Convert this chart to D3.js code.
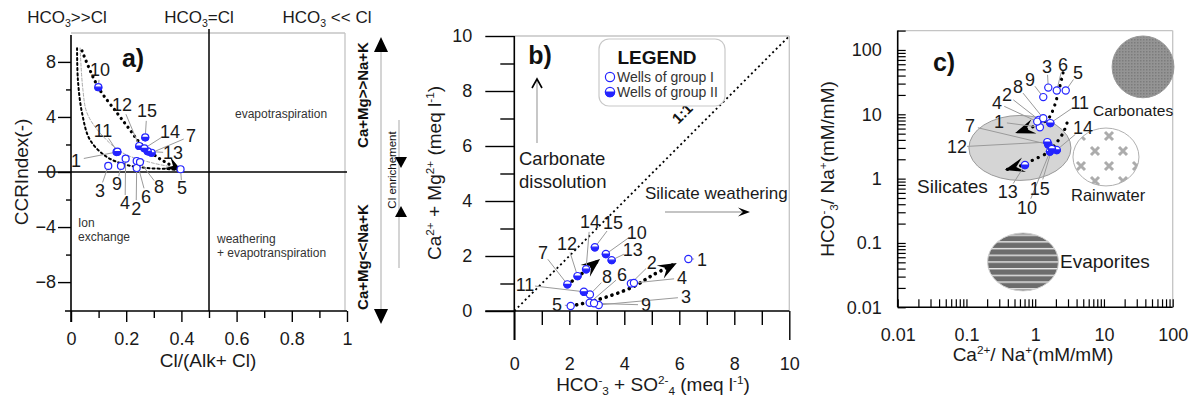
<!DOCTYPE html>
<html><head><meta charset="utf-8">
<script src="https://cdn.jsdelivr.net/npm/d3@7/dist/d3.min.js"></script>
<style>html,body{margin:0;padding:0;background:#fff}svg{display:block}</style>
</head><body><svg id="chart" width="1195" height="400"></svg>
<script>
// ================= DATA =================
const wells     = ["1","2","3","4","5","6","7","8","9","10","11","12","13","14","15"];
const wellGroup = ["I","I","I","I","I","I","II","I","I","II","II","II","II","II","II"];

// Panel a : Cl/(Alk+Cl) vs CCR index
const aClRatio = [0.165,0.238,0.135,0.198,0.397,0.238,0.292,0.25,0.181,0.099,0.168,0.247,0.278,0.266,0.269];
const aCCR     = [1.45,0.29,0.44,0.97,0.2,0.8,1.4,0.72,0.44,6.16,1.48,1.89,1.5,1.72,2.52];
const aXTicks = [0,0.2,0.4,0.6,0.8,1];
const aXMinor = [0.1,0.3,0.5,0.7,0.9];
const aYTicks = [-8,-4,0,4,8];
const aYMinor = [-6,-2,2,6];
const aTrendMainX = [0.04,0.098,0.167,0.214,0.25,0.312,0.348,0.402];
const aTrendMainY = [8.8,6.18,4.29,3.05,2.11,1.09,0.65,0.07];
const aTrendLowX  = [0.022,0.025,0.04,0.069,0.13,0.203,0.275,0.348,0.39];
const aTrendLowY  = [9.0,6.7,4.29,2.33,1.09,0.51,0.29,0.22,0.12];
const aTrendMidX  = [0.033,0.043,0.058,0.105,0.188,0.297,0.37];
const aTrendMidY  = [9.0,6.0,4.29,2.84,1.38,0.65,0.36];
const aLabelX = [0.018,0.236,0.105,0.196,0.402,0.272,0.435,0.319,0.167,0.105,0.116,0.185,0.37,0.359,0.275];
const aLabelY = [0.87,-2.62,-1.31,-2.25,-1.16,-1.75,2.62,-1.09,-0.87,7.42,3.05,4.87,1.38,2.91,4.44];

// Panel b : HCO3+SO4 vs Ca+Mg (meq/l)
const bHCO3SO4 = [6.33,4.24,3.07,4.35,2.05,2.74,1.93,2.75,2.9,3.33,2.53,2.3,3.54,2.61,2.93];
const bCaMg    = [1.89,1.0,0.22,1.02,0.18,0.3,0.97,0.6,0.28,2.07,0.7,1.27,1.85,1.52,2.32];
const bTicks = [0,2,4,6,8,10];
const bMinorX = [1,2,3,4,5,6,7,8,9];
const bMinorY = [1,3,5,7,9];
const bTrendIIX = [1.93,2.39,2.64,3.12];
const bTrendIIY = [0.95,1.31,1.49,1.89];
const bTrendIX  = [2.05,3.0,4.3,5.04,5.91];
const bTrendIY  = [0.18,0.4,0.87,1.31,1.75];
const bLabelX = [6.83,5.0,6.24,6.1,1.55,3.92,1.04,3.37,4.79,4.45,0.39,1.92,4.31,2.75,3.59];
const bLabelY = [1.89,1.75,0.51,1.2,0.25,1.31,2.11,1.24,0.22,2.87,0.95,2.47,2.22,3.24,3.2];

// Panel c : Ca/Na vs HCO3/Na (mM/mM), log-log
const cCaNa   = [1.17,1.135,1.55,1.07,2.78,2.06,1.55,1.31,1.31,1.64,1.66,1.5,0.71,2.06,1.75];
const cHCO3Na = [6.3,8.2,26,7.7,23.4,23.4,3.4,8.7,18.5,2.63,7.3,3.7,1.63,2.79,2.9];
const cTicks = [0.01,0.1,1,10,100];
const cTrendUpX = [2.54,1.82,1.49,0.93,0.51];
const cTrendUpY = [44,11.7,8.2,6.4,5.1];
const cTrendLoX = [2.9,2.54,1.82,1.49,0.93,0.67,0.36];
const cTrendLoY = [7.3,5.1,3.1,2.51,1.95,1.63,1.36];
const cLabelX = [0.297,0.389,1.49,0.278,4.2,2.54,0.113,0.562,0.84,0.76,4.45,0.073,0.40,4.96,1.17];
const cLabelY = [7.62,20.0,54.6,15.0,44,58.6,6.6,26.7,34.3,0.35,15.0,3.11,0.62,6.14,0.69];
// end-member fields (centre in data units, radii in decades)
const cZones   = ["Carbonates","Rainwater","Silicates","Evaporites"];
const cZoneX   = [37,10.7,0.60,0.665];
const cZoneY   = [54.6,2.17,3.0,0.0507];
const cZoneRX  = [0.45,0.48,0.742,0.516];
const cZoneRY  = [0.48,0.45,0.505,0.45];

// ================= DRAWING =================
const FF = '"Liberation Sans", Arial, Helvetica, sans-serif';
const BLUE = "#2424ff", LEAD = "#9a9a9a", BORDER = "#c4c4c4", TXT = "#1a1a1a";
const svg = d3.select("#chart").attr("font-family", FF);

function rich(t, parts, fs) {
  let shift = 0;
  parts.forEach(p => {
    let target = 0, size = fs, str = p;
    if (typeof p !== "string") { str = p.t; size = fs * 0.62; target = p.s === "sup" ? -fs * 0.38 : fs * 0.22; }
    t.append("tspan").attr("dy", target - shift).attr("font-size", size).text(str);
    shift = target;
  });
  return t;
}
const SUP = t => ({t, s: "sup"}), SUB = t => ({t, s: "sub"});

function dart(g, tip, from, len, wid) {
  const ang = Math.atan2(tip[1] - from[1], tip[0] - from[0]) * 180 / Math.PI;
  g.append("path")
    .attr("d", `M0,0 L${-len},${-wid / 2} L${-len * 0.6},0 L${-len},${wid / 2} Z`)
    .attr("transform", `translate(${tip[0]},${tip[1]}) rotate(${ang})`)
    .attr("fill", "#000");
}
function marker(g, x, y, grp, r) {
  g.append("circle").attr("cx", x).attr("cy", y).attr("r", r)
    .attr("fill", "#fff").attr("stroke", BLUE).attr("stroke-width", 1.2);
  if (grp === "II") {
    g.append("path").attr("d", `M${x - r},${y} A${r},${r} 0 0 0 ${x + r},${y} Z`)
      .attr("fill", BLUE).attr("stroke", BLUE).attr("stroke-width", 1.2);
  }
}
function styleAxis(sel, fs) {
  sel.select(".domain").remove();
  sel.attr("font-size", fs).attr("font-family", FF);
  sel.selectAll(".tick line").attr("stroke", "#000").attr("stroke-width", 1.4);
  sel.selectAll(".tick text").attr("fill", TXT);
}
function line(g, x1, y1, x2, y2, col, w) {
  return g.append("line").attr("x1", x1).attr("y1", y1).attr("x2", x2).attr("y2", y2)
    .attr("stroke", col).attr("stroke-width", w);
}
function points(g, xs, ys, sx, sy, lxs, lys, r) {
  wells.forEach((w, i) => {
    const px = sx(xs[i]), py = sy(ys[i]), lx = sx(lxs[i]), ly = sy(lys[i]);
    const dx = px - lx, dy = py - ly, d = Math.hypot(dx, dy);
    const off = Math.min(w.length > 1 ? 10 : 8, d - r);
    line(g, lx + dx / d * off, ly + dy / d * off, px - dx / d * r, py - dy / d * r, LEAD, 1);
  });
  wells.forEach((w, i) => marker(g, sx(xs[i]), sy(ys[i]), wellGroup[i], r));
  wells.forEach((w, i) => {
    g.append("text").attr("x", sx(lxs[i])).attr("y", sy(lys[i])).attr("dy", "0.36em")
      .attr("text-anchor", "middle").attr("font-size", 18).attr("fill", TXT).text(w);
  });
}
function trend(g, xs, ys, sx, sy, w, dash, col) {
  const pts = xs.map((x, i) => [sx(x), sy(ys[i])]);
  g.append("path").attr("d", d3.line().curve(d3.curveCatmullRom.alpha(0.5))(pts))
    .attr("fill", "none").attr("stroke", col || "#000").attr("stroke-width", w)
    .attr("stroke-dasharray", dash).attr("stroke-linecap", "round");
  return pts;
}

// ---------------- Panel a ----------------
{
  const xA = d3.scaleLinear().domain([0, 1]).range([71, 347]);
  const yA = d3.scaleLinear().domain([-10.1, 10.1]).range([311, 33]);
  const g = svg.append("g");
  line(g, xA(0), yA(10.1), xA(1) - 2, yA(10.1), BORDER, 1.3);
  line(g, xA(1) - 2, yA(10.1), xA(1) - 2, yA(-10.1), BORDER, 1.3);
  line(g, 38, yA(0), xA(1), yA(0), "#000", 1.5);
  line(g, xA(0.5), 29, xA(0.5), yA(-10.1), "#000", 1.5);

  g.append("g").attr("transform", `translate(0,${yA(-10.1)})`)
    .call(d3.axisBottom(xA).tickValues(aXTicks).tickSize(11).tickPadding(10).tickFormat(d3.format("~g")))
    .call(styleAxis, 18);
  g.append("g").attr("transform", `translate(0,${yA(-10.1)})`)
    .call(d3.axisBottom(xA).tickValues(aXMinor).tickSize(7).tickFormat(""))
    .call(styleAxis, 18);
  g.append("g").attr("transform", `translate(${xA(0)},0)`)
    .call(d3.axisLeft(yA).tickValues(aYTicks).tickSize(13).tickPadding(2).tickFormat(d3.format("~g")))
    .call(styleAxis, 18);
  g.append("g").attr("transform", `translate(${xA(0)},0)`)
    .call(d3.axisLeft(yA).tickValues(aYMinor).tickSize(5).tickFormat(""))
    .call(styleAxis, 18);
  line(g, 65, yA(-10.1), xA(1), yA(-10.1), "#000", 1.6);
  line(g, xA(0), 35, xA(0), yA(-10.1) + 11, "#000", 1.6);

  // top headers
  rich(g.append("text").attr("x", 67).attr("y", 23).attr("text-anchor", "middle").attr("font-size", 17).attr("fill", TXT),
    ["HCO", SUB("3"), ">>Cl"], 17);
  rich(g.append("text").attr("x", 199).attr("y", 23).attr("text-anchor", "middle").attr("font-size", 17).attr("fill", TXT),
    ["HCO", SUB("3"), "=Cl"], 17);
  rich(g.append("text").attr("x", 327).attr("y", 23).attr("text-anchor", "middle").attr("font-size", 17).attr("fill", TXT),
    ["HCO", SUB("3"), " << Cl"], 17);

  g.append("text").attr("x", 133).attr("y", 67).attr("text-anchor", "middle").attr("font-size", 25)
    .attr("font-weight", "bold").attr("fill", "#111").text("a)");
  g.append("text").attr("x", 235).attr("y", 118).attr("font-size", 12).attr("fill", "#333").text("evapotraspiration");
  g.append("text").attr("x", 78).attr("y", 227).attr("font-size", 12).attr("fill", "#333").text("Ion");
  g.append("text").attr("x", 78).attr("y", 241).attr("font-size", 12).attr("fill", "#333").text("exchange");
  g.append("text").attr("x", 217).attr("y", 243).attr("font-size", 12).attr("fill", "#333").text("weathering");
  g.append("text").attr("x", 217).attr("y", 257).attr("font-size", 12).attr("fill", "#333").text("+ evapotranspiration");

  g.append("text").attr("transform", "translate(28,172) rotate(-90)").attr("text-anchor", "middle")
    .attr("font-size", 19).attr("fill", TXT).text("CCRIndex(-)");
  g.append("text").attr("x", 208).attr("y", 367).attr("text-anchor", "middle")
    .attr("font-size", 19).attr("fill", TXT).text("Cl/(Alk+ Cl)");

  // right side annotations
  g.append("text").attr("transform", "translate(368,95) rotate(-90)").attr("text-anchor", "middle")
    .attr("font-size", 15).attr("font-weight", "bold").attr("fill", "#111").text("Ca+Mg>>Na+K");
  g.append("text").attr("transform", "translate(368,257) rotate(-90)").attr("text-anchor", "middle")
    .attr("font-size", 15).attr("font-weight", "bold").attr("fill", "#111").text("Ca+Mg<<Na+K");
  line(g, 381, 50, 381, 310, "#b8b8b8", 1.2);
  g.append("path").attr("d", "M381,37 L388,52 L374,52 Z").attr("fill", "#000");
  g.append("path").attr("d", "M381,324 L388,309 L374,309 Z").attr("fill", "#000");
  g.append("text").attr("transform", "translate(396,170) rotate(-90)").attr("text-anchor", "middle")
    .attr("font-size", 11.5).attr("fill", "#111").text("Cl enrichement");
  line(g, 399, 120, 399, 268, "#b8b8b8", 1.2);
  g.append("path").attr("d", "M401,168 L407,157 L395,157 Z").attr("fill", "#000");
  g.append("path").attr("d", "M401,206 L407,217 L395,217 Z").attr("fill", "#000");

  // trends
  trend(g, aTrendMidX, aTrendMidY, xA, yA, 1, "3,2", "#a8a8a8");
  trend(g, aTrendLowX, aTrendLowY, xA, yA, 2, "2,3");
  const p = trend(g, aTrendMainX, aTrendMainY, xA, yA, 3.2, "0.1,5.5");
  dart(g, p[p.length - 1], p[p.length - 3], 17, 13);

  points(g, aClRatio, aCCR, xA, yA, aLabelX, aLabelY, 3.5);
}

// ---------------- Panel b ----------------
{
  const xB = d3.scaleLinear().domain([0, 10]).range([514.3, 789.3]);
  const yB = d3.scaleLinear().domain([0, 10]).range([311, 36]);
  const g = svg.append("g");
  line(g, xB(0), yB(10), xB(10), yB(10), BORDER, 1.3);
  line(g, xB(10), yB(10), xB(10), yB(0), BORDER, 1.3);

  g.append("g").attr("transform", `translate(0,${yB(0)})`)
    .call(d3.axisBottom(xB).tickValues(bMinorX).tickSize(14).tickFormat(""))
    .call(styleAxis, 18);
  g.append("g").attr("transform", `translate(0,${yB(0)})`)
    .call(d3.axisBottom(xB).tickValues([0, 10]).tickSize(29).tickFormat(""))
    .call(styleAxis, 18);
  g.append("g").attr("transform", `translate(0,${yB(0)})`)
    .call(d3.axisBottom(xB).tickValues(bTicks).tickSize(0).tickPadding(46).tickFormat(d3.format("~g")))
    .call(styleAxis, 18);
  g.append("g").attr("transform", `translate(${xB(0)},0)`)
    .call(d3.axisLeft(yB).tickValues(bTicks).tickSize(29).tickPadding(13).tickFormat(d3.format("~g")))
    .call(styleAxis, 18);
  g.append("g").attr("transform", `translate(${xB(0)},0)`)
    .call(d3.axisLeft(yB).tickValues(bMinorY).tickSize(14).tickFormat(""))
    .call(styleAxis, 18);
  line(g, xB(0) - 29, yB(0), xB(10), yB(0), "#000", 1.6);
  line(g, xB(0), yB(10), xB(0), yB(0) + 29, "#000", 1.6);

  // 1:1 line
  g.append("line").attr("x1", xB(0)).attr("y1", yB(0)).attr("x2", xB(10)).attr("y2", yB(10))
    .attr("stroke", "#000").attr("stroke-width", 1.8).attr("stroke-dasharray", "2,3");
  g.append("text").attr("transform", "translate(686,117) rotate(-45)").attr("text-anchor", "middle")
    .attr("font-size", 15).attr("font-weight", "bold").attr("fill", "#111").text("1:1");

  g.append("text").attr("x", 540).attr("y", 64).attr("text-anchor", "middle").attr("font-size", 25)
    .attr("font-weight", "bold").attr("fill", "#111").text("b)");

  // legend
  g.append("rect").attr("x", 599).attr("y", 39).attr("width", 126).attr("height", 67).attr("rx", 10)
    .attr("fill", "#fff").attr("stroke", "#c8c8c8").attr("stroke-width", 1.2);
  g.append("text").attr("x", 657).attr("y", 64).attr("text-anchor", "middle").attr("font-size", 19)
    .attr("font-weight", "bold").attr("fill", "#111").text("LEGEND");
  marker(g, 610, 77, "I", 4.6);
  marker(g, 610, 92, "II", 4.6);
  g.append("text").attr("x", 617).attr("y", 82).attr("font-size", 14).attr("fill", "#333").text("Wells of group I");
  g.append("text").attr("x", 617).attr("y", 97).attr("font-size", 14).attr("fill", "#333").text("Wells of group II");

  // process arrows
  line(g, 537, 143, 537, 80, "#b0b0b0", 1.4);
  g.append("path").attr("d", "M532,88 L537,79 L542,88").attr("fill", "none").attr("stroke", "#000").attr("stroke-width", 1.6);
  g.append("text").attr("x", 519).attr("y", 165).attr("font-size", 18.5).attr("fill", TXT).text("Carbonate");
  g.append("text").attr("x", 519).attr("y", 188).attr("font-size", 18.5).attr("fill", TXT).text("dissolution");
  g.append("text").attr("x", 645).attr("y", 199).attr("font-size", 17).attr("fill", TXT).text("Silicate weathering");
  line(g, 665, 212, 742, 212, "#b0b0b0", 1.4);
  dart(g, [750, 212], [700, 212], 12, 9);

  g.append("text").attr("transform", "translate(441,173) rotate(-90)").attr("text-anchor", "middle")
    .call(t => rich(t.attr("font-size", 19).attr("fill", TXT),
      ["Ca", SUP("2+"), " + Mg", SUP("2+"), " (meq l", SUP("-1"), ")"], 19));
  g.append("text").attr("x", 653).attr("y", 391).attr("text-anchor", "middle")
    .call(t => rich(t.attr("font-size", 19).attr("fill", TXT),
      ["HCO", SUP("-"), SUB("3"), " + SO", SUP("2-"), SUB("4"), " (meq l", SUP("-1"), ")"], 19));

  const p2 = trend(g, bTrendIIX, bTrendIIY, xB, yB, 3.6, "0.1,6");
  dart(g, p2[p2.length - 1], p2[p2.length - 3], 19, 15);
  const p1 = trend(g, bTrendIX, bTrendIY, xB, yB, 3.6, "0.1,6");
  dart(g, p1[p1.length - 1], p1[p1.length - 3], 19, 15);

  points(g, bHCO3SO4, bCaMg, xB, yB, bLabelX, bLabelY, 3.6);
}

// ---------------- Panel c ----------------
{
  const xC = d3.scaleLog().domain([0.01, 100]).range([897.7, 1172.7]);
  const yC = d3.scaleLog().domain([0.01, 200]).range([307.3, 30.6]);
  const g = svg.append("g");
  const defs = svg.append("defs");

  const pc = defs.append("pattern").attr("id", "pCarb").attr("patternUnits", "userSpaceOnUse").attr("width", 3).attr("height", 3);
  pc.append("rect").attr("width", 3).attr("height", 3).attr("fill", "#949494");
  pc.append("rect").attr("width", 1.5).attr("height", 1.5).attr("fill", "#7c7c7c");
  const pr = defs.append("pattern").attr("id", "pRain").attr("patternUnits", "userSpaceOnUse")
    .attr("width", 28).attr("height", 30).attr("x", 1073).attr("y", 128);
  pr.append("rect").attr("width", 28).attr("height", 30).attr("fill", "#fff");
  [[8, 8], [22, 23]].forEach(([cx, cy]) => {
    pr.append("path").attr("d", `M${cx - 4},${cy - 4} L${cx + 4},${cy + 4} M${cx + 4},${cy - 4} L${cx - 4},${cy + 4}`)
      .attr("stroke", "#acacac").attr("stroke-width", 3);
  });
  const pe = defs.append("pattern").attr("id", "pEvap").attr("patternUnits", "userSpaceOnUse").attr("width", 10).attr("height", 6.7);
  pe.append("rect").attr("width", 10).attr("height", 6.7).attr("fill", "#6c6c6c");
  pe.append("rect").attr("width", 10).attr("height", 1.4).attr("fill", "#e8e8e8");
  const zoneFill = ["url(#pCarb)", "url(#pRain)", "#d5d5d5", "url(#pEvap)"];
  const zoneStroke = ["#9a9a9a", "#b0b0b0", "#9a9a9a", "#cfcfcf"];

  line(g, xC(0.01), yC(200), xC(100), yC(200), BORDER, 1.3);
  line(g, xC(100), yC(200), xC(100), yC(0.01), BORDER, 1.3);

  cZones.forEach((z, i) => {
    const cx = xC(cZoneX[i]), cy = yC(cZoneY[i]);
    const rx = xC(cZoneX[i] * Math.pow(10, cZoneRX[i])) - cx;
    const ry = cy - yC(cZoneY[i] * Math.pow(10, cZoneRY[i]));
    g.append("ellipse").attr("cx", cx).attr("cy", cy).attr("rx", rx).attr("ry", ry)
      .attr("fill", zoneFill[i]).attr("stroke", zoneStroke[i]).attr("stroke-width", 1);
  });

  const minor = [];
  for (let e = -2; e < 2; e++) for (let m = 1; m <= 9; m++) minor.push(m * Math.pow(10, e));
  minor.push(100);
  const minorY = minor.concat([200]);
  g.append("g").attr("transform", `translate(0,${yC(0.01)})`)
    .call(d3.axisBottom(xC).tickValues(minor).tickSize(-8).tickFormat(""))
    .call(styleAxis, 18);
  g.append("g").attr("transform", `translate(0,${yC(0.01)})`)
    .call(d3.axisBottom(xC).tickValues(cTicks).tickSize(0).tickPadding(21).tickFormat(d3.format("~g")))
    .call(styleAxis, 18);
  g.append("g").attr("transform", `translate(${xC(0.01)},0)`)
    .call(d3.axisLeft(yC).tickValues(minorY).tickSize(-8).tickFormat(""))
    .call(styleAxis, 18);
  g.append("g").attr("transform", `translate(${xC(0.01)},0)`)
    .call(d3.axisLeft(yC).tickValues(cTicks).tickSize(0).tickPadding(16).tickFormat(d3.format("~g")))
    .call(styleAxis, 18);
  g.selectAll(".tick line").attr("stroke-width", 1.2);
  line(g, xC(0.01), yC(0.01), xC(100), yC(0.01), "#000", 1.6);
  line(g, xC(0.01), yC(200), xC(0.01), yC(0.01), "#000", 1.6);

  g.append("text").attr("x", 944).attr("y", 71).attr("text-anchor", "middle").attr("font-size", 25)
    .attr("font-weight", "bold").attr("fill", "#111").text("c)");
  g.append("text").attr("x", 1093).attr("y", 116).attr("font-size", 15.5).attr("fill", TXT).text("Carbonates");
  g.append("text").attr("x", 1071).attr("y", 201).attr("font-size", 16.5).attr("fill", TXT).text("Rainwater");
  g.append("text").attr("x", 917).attr("y", 193).attr("font-size", 19).attr("fill", TXT).text("Silicates");
  g.append("text").attr("x", 1060).attr("y", 268).attr("font-size", 19).attr("fill", TXT).text("Evaporites");

  g.append("text").attr("transform", "translate(834,169) rotate(-90)").attr("text-anchor", "middle")
    .call(t => rich(t.attr("font-size", 19).attr("fill", TXT),
      ["HCO", SUP("-"), SUB("3"), "/ Na", SUP("+"), "(mM/mM)"], 19));
  g.append("text").attr("x", 1033).attr("y", 361).attr("text-anchor", "middle")
    .call(t => rich(t.attr("font-size", 19).attr("fill", TXT),
      ["Ca", SUP("2+"), "/ Na", SUP("+"), "(mM/mM)"], 19));

  const q1 = trend(g, cTrendUpX, cTrendUpY, xC, yC, 3.2, "0.1,6.5");
  dart(g, q1[q1.length - 1], q1[q1.length - 2], 20, 15);
  const q2 = trend(g, cTrendLoX, cTrendLoY, xC, yC, 3.2, "0.1,6.5");
  dart(g, q2[q2.length - 1], q2[q2.length - 2], 20, 15);

  points(g, cCaNa, cHCO3Na, xC, yC, cLabelX, cLabelY, 3.6);
}
</script></body></html>
